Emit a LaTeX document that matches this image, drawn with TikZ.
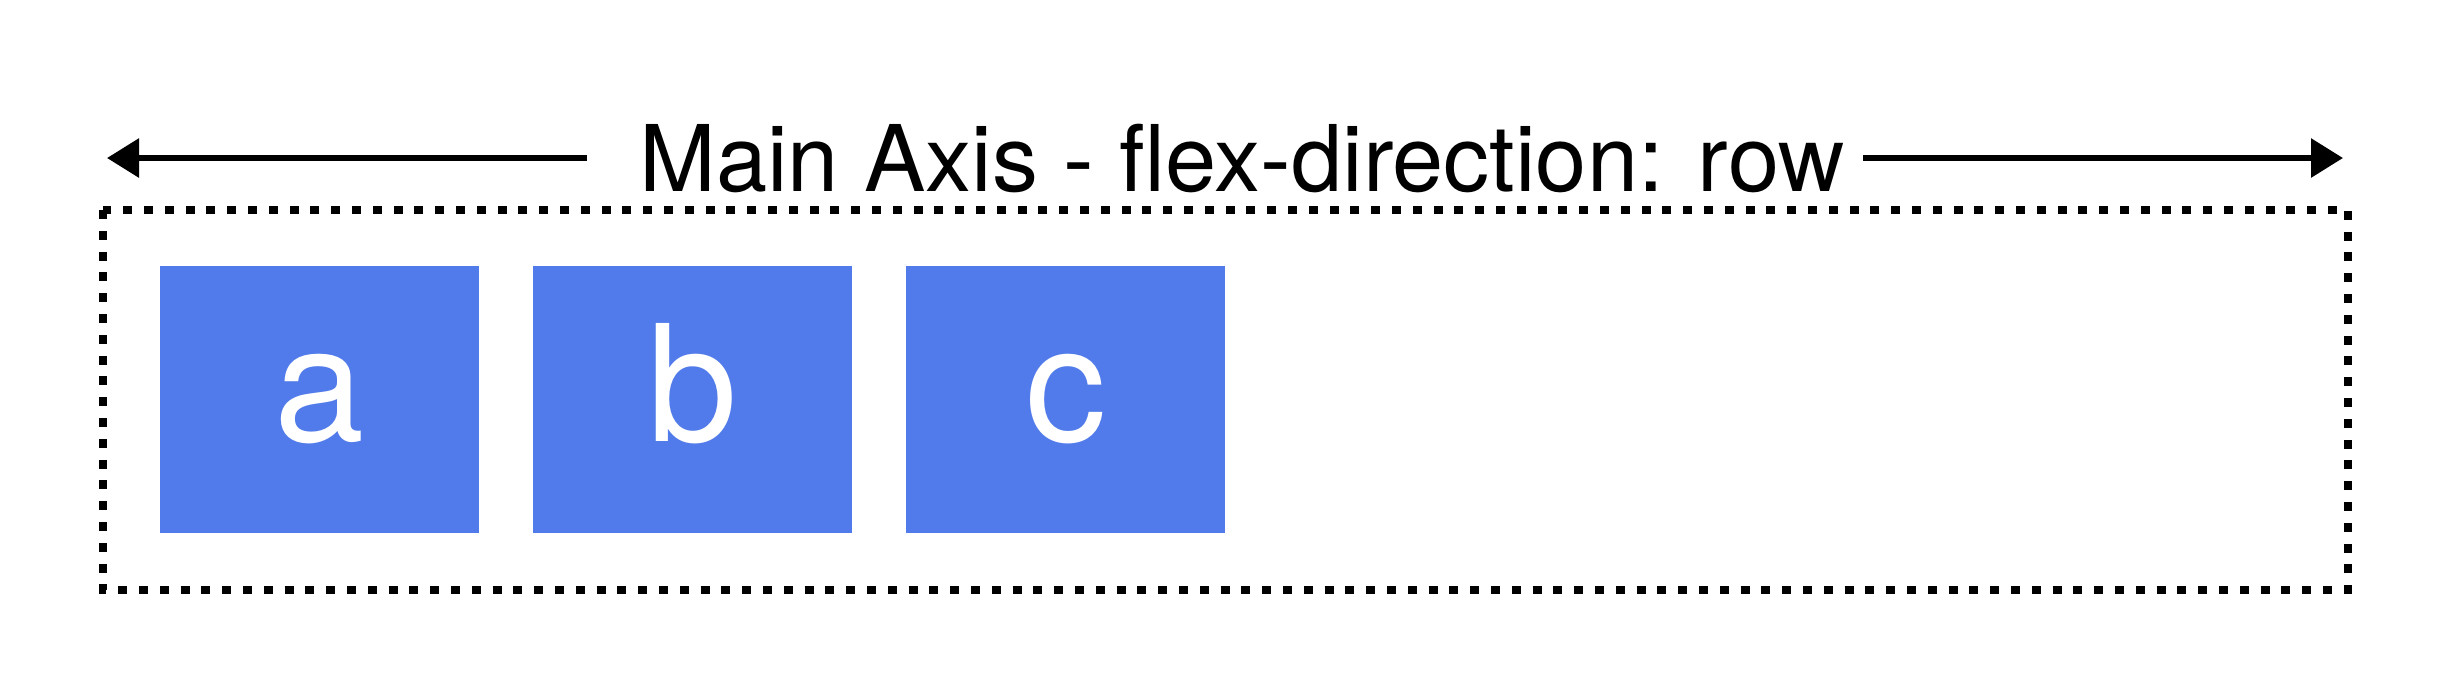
\documentclass[tikz,border=0pt]{standalone}
\usepackage{fontspec}
\setmainfont{TeX Gyre Heros}
\usetikzlibrary{arrows.meta}
\definecolor{itemblue}{RGB}{81,123,234}
\tikzset{
	item/.style={fill=itemblue, text=white, inner sep=0pt, minimum width=159.5pt, minimum height=133.5pt,
		text height=42pt, text depth=0pt, font=\fontsize{81}{81}\selectfont},
	axis/.style={line width=3pt, -{Triangle[length=16pt,width=19pt]}},
	flexbox/.style={line width=4pt, dash pattern=on 4.5pt off 5.9pt},
}
\begin{document}
\begin{tikzpicture}[x=0.5pt,y=-0.5pt]
	\useasboundingbox (0,0) rectangle (2450,696);
	\draw [flexbox] (103,210) rectangle (2348,590);
	\foreach \name/\x in {a/319.5, b/692.5, c/1065.5} {
		\node [item] (\name) at (\x,399.5) {\name};
	}
	\node [anchor=base, inner sep=0pt, font=\fontsize{46}{46}\selectfont] (title) at (1242,191) {Main Axis - flex-direction: row};
	\coordinate (ltip) at (107,0);
	\coordinate (rtip) at (2343,0);
	\draw [axis] ([xshift=-26pt]title.west) -- (ltip |- title.west);
	\draw [axis] ([xshift=9pt]title.east) -- (rtip |- title.east);
\end{tikzpicture}
\end{document}
